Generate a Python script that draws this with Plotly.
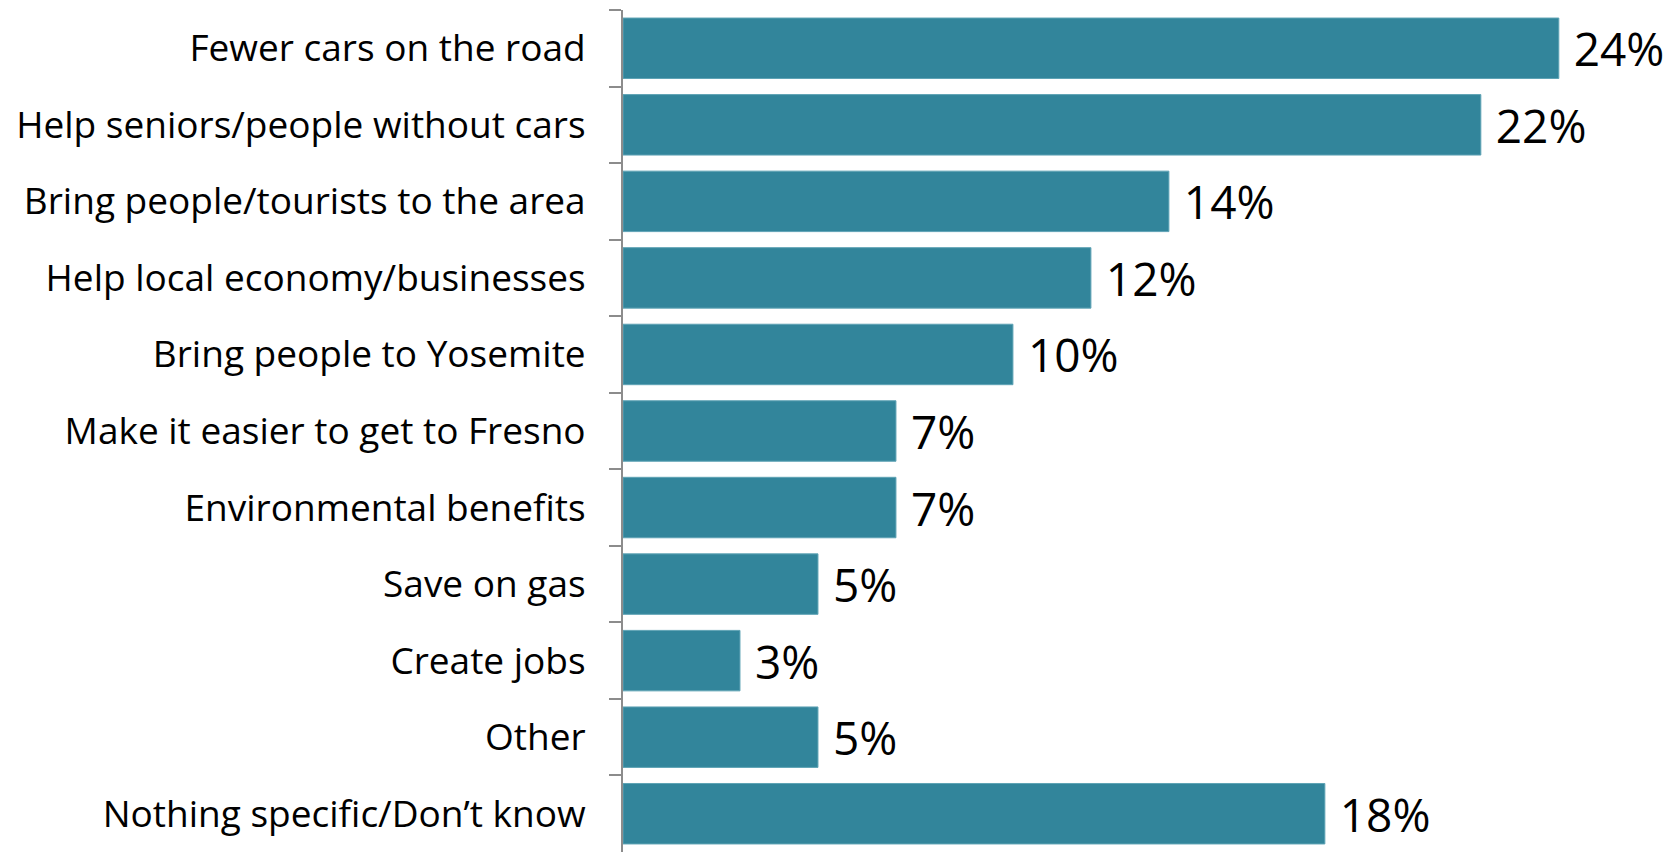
import plotly.graph_objects as go

categories = [
    "Fewer cars on the road",
    "Help seniors/people without cars",
    "Bring people/tourists to the area",
    "Help local economy/businesses",
    "Bring people to Yosemite",
    "Make it easier to get to Fresno",
    "Environmental benefits",
    "Save on gas",
    "Create jobs",
    "Other",
    "Nothing specific/Don\u2019t know",
]
values = [24, 22, 14, 12, 10, 7, 7, 5, 3, 5, 18]
value_labels = [f" {v}%" for v in values]

fig = go.Figure(
    go.Bar(
        x=values,
        y=categories,
        orientation="h",
        marker=dict(color="#32859B", line=dict(color="#5FA3B5", width=1)),
        text=value_labels,
        textposition="outside",
        constraintext="none",
        cliponaxis=False,
        textfont=dict(family="Open Sans", size=46, color="#000000"),
        width=0.79,
    )
)

fig.update_layout(
    width=1660,
    height=846,
    margin=dict(l=615, r=0, t=2, b=2),
    plot_bgcolor="white",
    paper_bgcolor="white",
    showlegend=False,
    font=dict(family="Open Sans", color="#000000"),
)
fig.update_xaxes(range=[0, 26.8], visible=False, showgrid=False, zeroline=False)
fig.update_yaxes(
    autorange="reversed",
    type="category",
    showline=True,
    linecolor="#8C8C8C",
    linewidth=2,
    ticks="outside",
    tickson="boundaries",
    ticklen=12,
    tickwidth=2,
    tickcolor="#8C8C8C",
    ticklabelstandoff=28,
    tickfont=dict(family="Open Sans", size=37, color="#000000"),
    showgrid=False,
)

fig.write_html("out.html")
